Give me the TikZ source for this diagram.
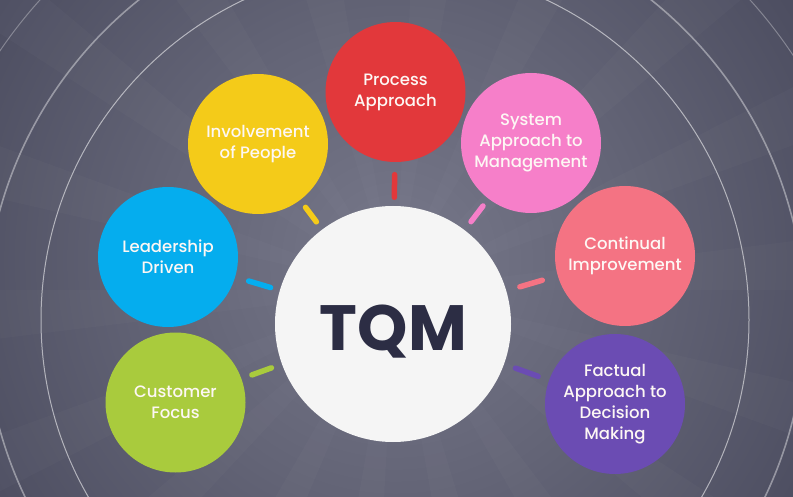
\documentclass[tikz,border=0pt]{standalone}
\usepackage{fontspec}
\setmainfont{Poppins}
\newfontfamily\labfont{Poppins Medium}
\newfontfamily\tqmfont{Poppins Bold}
\definecolor{bgdark}{HTML}{383A4E}
\definecolor{bgd2}{HTML}{404155}
\definecolor{bgmid}{HTML}{4C4D60}
\definecolor{bgm2}{HTML}{636476}
\definecolor{bglight}{HTML}{77788A}
\definecolor{cred}{HTML}{E2383B}
\definecolor{cyellow}{HTML}{F4CB19}
\definecolor{cpink}{HTML}{F67FC9}
\definecolor{cblue}{HTML}{05ADEE}
\definecolor{csalmon}{HTML}{F47383}
\definecolor{cgreen}{HTML}{A9CB3D}
\definecolor{cpurple}{HTML}{6B4CB3}
\definecolor{cwhite}{HTML}{F5F5F5}
\definecolor{ctqm}{HTML}{2C2D44}
\definecolor{clab}{HTML}{FDF7F4}
\pgfdeclareradialshading{bgshade}{\pgfpoint{0bp}{0bp}}{color(0bp)=(bglight); color(10.3bp)=(bgm2); color(20.7bp)=(bgmid); color(28.4bp)=(bgd2); color(36.2bp)=(bgdark); color(50bp)=(bgdark)}
\tikzset{
  sat/.style={circle, minimum size=140pt, inner sep=0pt, text=clab, align=center,
    font=\labfont\fontsize{16.5}{21}\selectfont},
  spoke/.style={line width=5.5pt, line cap=round},
  arcline/.style={draw=white, line width=1pt},
}
\begin{document}
\begin{tikzpicture}[x=1pt,y=-1pt]
\useasboundingbox (0,0) rectangle (793,497);
\begin{scope}
  \clip (0,0) rectangle (793,497);
  \fill[bgdark] (0,0) rectangle (793,497);
  \shade[shading=bgshade] (395,260) circle (580pt);
  \foreach \a in {0,20,...,340}
    \fill[white, opacity=0.02] (395,290) -- +(\a:900pt) -- +(\a+7:900pt) -- cycle;
  \draw[arcline, opacity=0.55] (395,320) circle (354pt);
  \draw[arcline, opacity=0.40, line width=1.6pt] (395,320) circle (410pt);
  \draw[arcline, opacity=0.30] (395,320) circle (478pt);
\end{scope}

\node[circle, fill=cwhite, minimum size=236pt, inner sep=0pt] (tqm) at (393,324) {};
\node[anchor=base, text=ctqm, font=\tqmfont\fontsize{64}{64}\selectfont] (tqmlabel) at (393.5,350) {TQM};

\node[sat, fill=cred]    (proc) at (395.5,92)  {Process\\Approach};
\node[sat, fill=cyellow] (invo) at (258,144)   {Involvement\\of People};
\node[sat, fill=cpink]   (syst) at (531,143)   {System\\Approach to\\Management};
\node[sat, fill=cblue]   (lead) at (168,257)   {Leadership\\Driven};
\node[sat, fill=csalmon] (cont) at (625,256)   {Continual\\Improvement};
\node[sat, fill=cgreen]  (cust) at (175.5,402.5) {Customer\\Focus};
\node[sat, fill=cpurple] (fact) at (615,404)   {Factual\\Approach to\\Decision\\Making};

\draw[spoke, draw=cred,    shorten <=12.5pt, shorten >=8.5pt]  (proc) -- (tqm);
\draw[spoke, draw=cyellow, shorten <=9pt,    shorten >=9.5pt]  (invo) -- (tqm);
\draw[spoke, draw=cpink,   shorten <=9pt,    shorten >=10.5pt] (syst) -- (tqm);
\draw[spoke, draw=cblue,   shorten <=14pt,   shorten >=9.5pt]  (lead) -- (tqm);
\draw[spoke, draw=csalmon, shorten <=16pt,   shorten >=14pt]   (cont) -- (tqm);
\draw[spoke, draw=cgreen,  shorten <=11pt,   shorten >=11pt]   (cust) -- (tqm);
\draw[spoke, draw=cpurple, shorten <=11.5pt, shorten >=12pt]   (fact) -- (tqm);
\end{tikzpicture}
\end{document}
